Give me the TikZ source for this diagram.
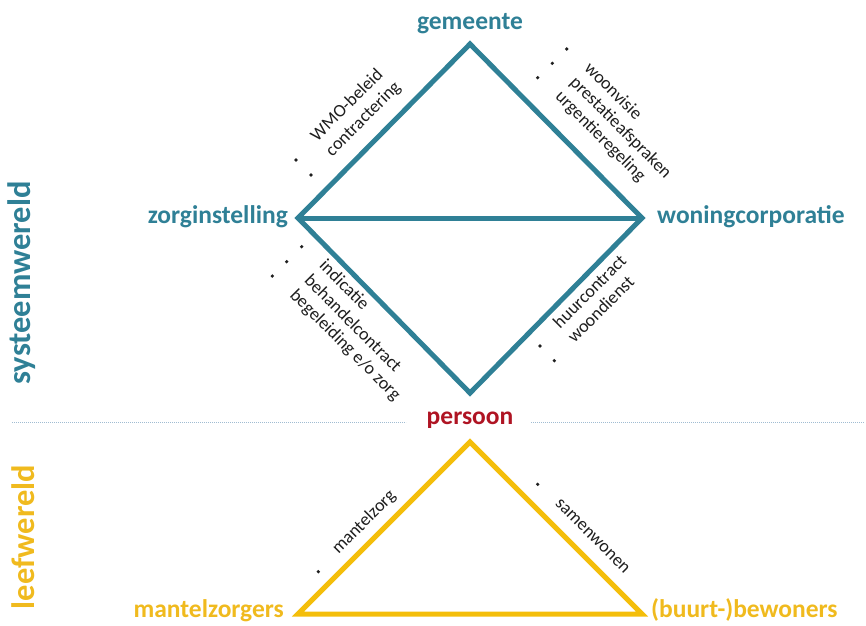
\documentclass[tikz,border=0pt]{standalone}
\usepackage{fontspec}
\setmainfont{Carlito}
\usetikzlibrary{calc}
\definecolor{teal}{RGB}{47,128,150}
\definecolor{gold}{RGB}{244,190,10}
\definecolor{goldtext}{RGB}{240,186,30}
\definecolor{persred}{RGB}{175,20,35}
\definecolor{dotblue}{RGB}{160,188,210}
\definecolor{edgetext}{RGB}{30,30,30}
\begin{document}
\begin{tikzpicture}[x=1pt,y=-1pt,
  bigl/.style={inner sep=0pt,font=\fontsize{25.5}{30}\selectfont\bfseries},
  sidel/.style={inner sep=0pt,rotate=90,font=\fontsize{32.5}{38}\selectfont\bfseries},
  itm/.style={inner sep=0pt,anchor=mid west,text=edgetext,font=\fontsize{18}{21}\selectfont},
  bul/.style={fill=edgetext},
  sysline/.style={draw=teal,line width=5pt,line join=miter},
  lifeline/.style={draw=gold,line width=5pt,line join=miter},
  sep/.style={draw=dotblue,line width=0.8pt,dash pattern=on 0.8pt off 1.2pt}
]
\useasboundingbox (0,0) rectangle (866,625);
% vertices
\coordinate (gem) at (470,44);
\coordinate (zorg) at (298,218);
\coordinate (won) at (642,218);
\coordinate (pers) at (470,393);
\coordinate (top2) at (470,442);
\coordinate (mz) at (298,614);
\coordinate (bw) at (642,614);
% system world diamond
\path[sysline] (gem) -- (won) -- (pers) -- (zorg) -- cycle;
\path[sysline] (zorg) -- (won);
% life world triangle
\path[lifeline] (top2) -- (bw) -- (mz) -- cycle;
% labels
\node[bigl,text=teal,anchor=base] (lgem) at (470,29) {gemeente};
\node[bigl,text=teal,anchor=base east] (lzorg) at (288,223) {zorginstelling};
\node[bigl,text=teal,anchor=base west] (lwon) at (657,223) {woningcorporatie};
\node[bigl,text=persred,anchor=base] (lpers) at (470,424) {persoon};
\node[bigl,text=goldtext,anchor=base east] (lmz) at (284,617) {mantelzorgers};
\node[bigl,text=goldtext,anchor=base west] (lbw) at (651,617) {(buurt-)bewoners};
\node[sidel,text=teal] (sys) at (22,283) {systeemwereld};
\node[sidel,text=goldtext] (leef) at (23,537) {leefwereld};
% separator
\coordinate (s1) at (12,422);
\coordinate (s2) at (406,422);
\coordinate (s3) at (531,422);
\coordinate (s4) at (864,422);
\draw[sep] (s1) -- (s2);
\draw[sep] (s3) -- (s4);
% upper-left list
\coordinate (a1) at (296,160);
\coordinate (a2) at (311,175);
\fill[bul] (a1) circle (1.8); \fill[bul] (a2) circle (1.8);
\node[itm,rotate=45] (ta1) at ($(a1)+(19.5,-19.5)$) {WMO-beleid};
\node[itm,rotate=45] (ta2) at ($(a2)+(19.5,-19.5)$) {contractering};
% upper-right list
\coordinate (b1) at (566.7,49);
\coordinate (b2) at (552.3,63.3);
\coordinate (b3) at (537.7,77.7);
\fill[bul] (b1) circle (1.8); \fill[bul] (b2) circle (1.8); \fill[bul] (b3) circle (1.8);
\node[itm,rotate=-45] (tb1) at ($(b1)+(18.4,18.4)$) {woonvisie};
\node[itm,rotate=-45] (tb2) at ($(b2)+(18.4,18.4)$) {prestatieafspraken};
\node[itm,rotate=-45] (tb3) at ($(b3)+(18.4,18.4)$) {urgentieregeling};
% lower-left list
\coordinate (c1) at (301.7,246.7);
\coordinate (c2) at (286.7,261.7);
\coordinate (c3) at (272.3,276);
\fill[bul] (c1) circle (1.8); \fill[bul] (c2) circle (1.8); \fill[bul] (c3) circle (1.8);
\node[itm,rotate=-45] (tc1) at ($(c1)+(18.4,18.4)$) {indicatie};
\node[itm,rotate=-45] (tc2) at ($(c2)+(18.4,18.4)$) {behandelcontract};
\node[itm,rotate=-45] (tc3) at ($(c3)+(18.4,18.4)$) {begeleiding e/o zorg};
% lower-right list
\coordinate (d1) at (540,346);
\coordinate (d2) at (554.3,360.7);
\fill[bul] (d1) circle (1.8); \fill[bul] (d2) circle (1.8);
\node[itm,rotate=45] (td1) at ($(d1)+(18.4,-18.4)$) {huurcontract};
\node[itm,rotate=45] (td2) at ($(d2)+(18.4,-18.4)$) {woondienst};
% triangle lists
\coordinate (e1) at (318.3,571.7);
\fill[bul] (e1) circle (1.8);
\node[itm,rotate=45] (te1) at ($(e1)+(18.4,-18.4)$) {mantelzorg};
\coordinate (f1) at (537.7,484.3);
\fill[bul] (f1) circle (1.8);
\node[itm,rotate=-45] (tf1) at ($(f1)+(18.4,18.4)$) {samenwonen};
\end{tikzpicture}
\end{document}
